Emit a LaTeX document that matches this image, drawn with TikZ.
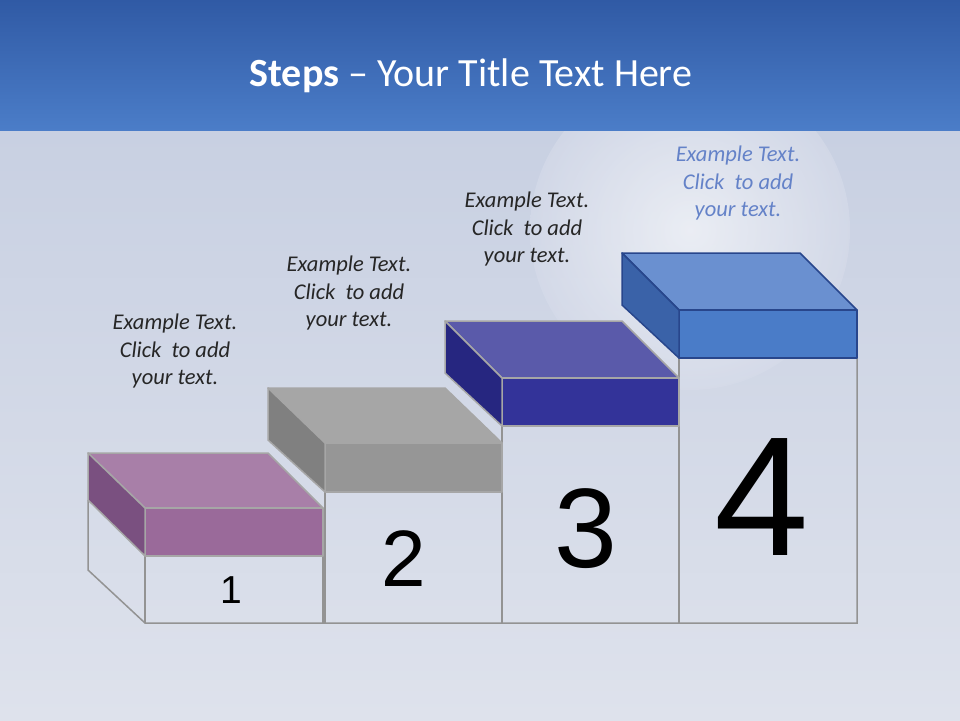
\documentclass[tikz,border=0pt]{standalone}
\usepackage{fontspec}
\setmainfont{Carlito}
\newfontfamily\numfont{Liberation Sans}
\begin{document}
\begin{tikzpicture}[x=1pt,y=-1pt,
  frame/.style={draw=gray!85,line width=1.5pt},
  slab/.style={draw=gray!70,line width=1.5pt,line join=round},
  lab/.style={font=\itshape\fontsize{22.5}{27.5}\selectfont,align=center,text=black!85},
  num/.style={font=\numfont}]
\useasboundingbox (0,0) rectangle (960,720);
\shade[top color={rgb,255:red,200;green,208;blue,226}, bottom color={rgb,255:red,222;green,226;blue,236}] (0,130) rectangle (960,720);
\shade[inner color=white,outer color={rgb,255:red,215;green,220;blue,234},opacity=0.6] (690,230) circle (160);
\shade[top color={rgb,255:red,48;green,90;blue,165}, bottom color={rgb,255:red,75;green,125;blue,200}] (0,0) rectangle (960,130);
\node[font=\fontsize{40}{44}\selectfont,text=white] (title) at (471,76) {\textbf{Steps} -- Your Title Text Here};
% frame
\draw[frame] (88,500) -- (88,570) -- (145,623) -- (857,623) -- (857,358);
\draw[frame] (145,556) -- (145,623);
\draw[frame] (323,556) -- (323,623);
\draw[frame] (325,492) -- (325,623);
\draw[frame] (502,426) -- (502,623);
\draw[frame] (679,358) -- (679,623);
% step 1
\filldraw[slab,fill={rgb,255:red,168;green,127;blue,168}] (88,453)--(268,453)--(323,508)--(145,508)--cycle;
\filldraw[slab,fill={rgb,255:red,154;green,106;blue,154}] (145,508) rectangle (323,556);
\filldraw[slab,fill={rgb,255:red,122;green,80;blue,128}] (88,453)--(145,508)--(145,556)--(88,500)--cycle;
% step 2
\filldraw[slab,fill=gray!70] (268,388)--(445,388)--(502,443)--(325,443)--cycle;
\filldraw[slab,fill=gray!82] (325,443) rectangle (502,492);
\filldraw[slab,fill=gray!100] (268,388)--(325,443)--(325,492)--(268,440)--cycle;
% step 3
\filldraw[slab,fill={rgb,255:red,90;green,90;blue,170}] (445,321)--(622,321)--(679,378)--(502,378)--cycle;
\filldraw[slab,fill={rgb,255:red,51;green,51;blue,153}] (502,378) rectangle (679,426);
\filldraw[slab,fill={rgb,255:red,38;green,38;blue,128}] (445,321)--(502,378)--(502,426)--(445,373)--cycle;
% step 4
\filldraw[slab,draw={rgb,255:red,40;green,70;blue,140},fill={rgb,255:red,106;green,144;blue,208}] (622,253)--(800,253)--(857,310)--(679,310)--cycle;
\filldraw[slab,draw={rgb,255:red,40;green,70;blue,140},fill={rgb,255:red,74;green,124;blue,200}] (679,310) rectangle (857,358);
\filldraw[slab,draw={rgb,255:red,40;green,70;blue,140},fill={rgb,255:red,58;green,98;blue,168}] (622,253)--(679,310)--(679,358)--(622,305)--cycle;
% numbers
\node[num,font=\numfont\fontsize{39}{39}\selectfont] (n1) at (231,590) {1};
\node[num,font=\numfont\fontsize{80}{80}\selectfont] (n2) at (404,559) {2};
\node[num,font=\numfont\fontsize{113}{113}\selectfont] (n3) at (586,529) {3};
\node[num,font=\numfont\fontsize{170}{170}\selectfont] (n4) at (762,497) {4};
% labels
\node[lab] (l1) at (175,351) {Example Text.\\Click~ to add\\your text.};
\node[lab] (l2) at (349,293) {Example Text.\\Click~ to add\\your text.};
\node[lab] (l3) at (527,229) {Example Text.\\Click~ to add\\your text.};
\node[lab,text={rgb,255:red,100;green,130;blue,200}] (l4) at (738,183) {Example Text.\\Click~ to add\\your text.};
\end{tikzpicture}
\end{document}
